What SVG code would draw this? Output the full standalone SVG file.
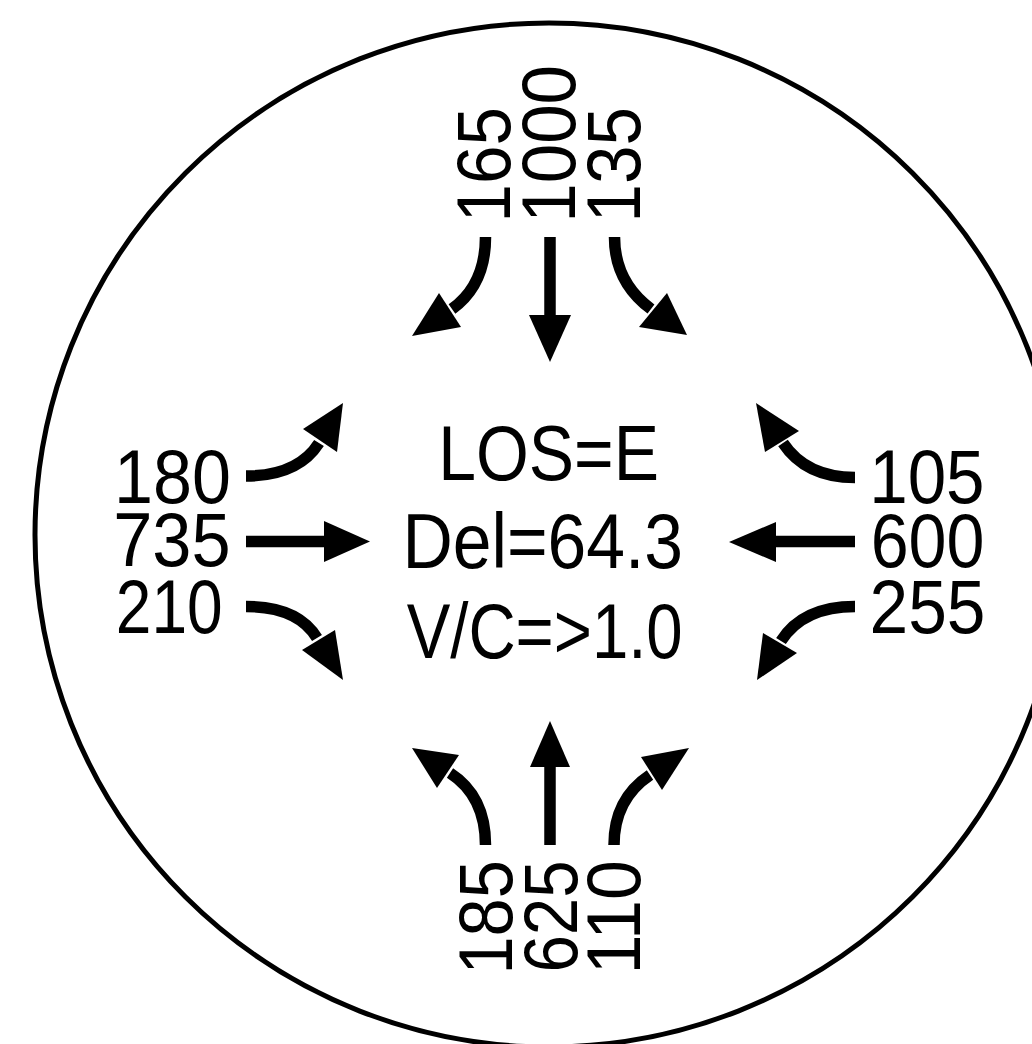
<svg xmlns="http://www.w3.org/2000/svg" width="1032" height="1044" viewBox="0 0 1032 1044">
<style>
text{font-family:"Liberation Sans",Arial,sans-serif;fill:#000;}
.n{font-size:76px;}
.c{font-size:78px;}
.sh{fill:none;stroke:#000;stroke-width:11.5;stroke-linecap:butt;}
.hd{fill:#000;stroke:none;}
</style>
<rect width="1032" height="1044" fill="#fff"/>
<g id="boundary">
<ellipse cx="549" cy="535" rx="514" ry="512" fill="none" stroke="#000" stroke-width="5"/>
</g>
<g id="summary">
<text class="c" x="438.3" y="480" textLength="220.7" lengthAdjust="spacingAndGlyphs">LOS=E</text>
<text class="c" x="402.5" y="568" textLength="280.5" lengthAdjust="spacingAndGlyphs">Del=64.3</text>
<text class="c" x="406.7" y="658" textLength="276" lengthAdjust="spacingAndGlyphs">V/C=&gt;1.0</text>
</g>
<g id="north-volumes">
<text class="n" transform="translate(510,222.5) rotate(-90)" textLength="115.4" lengthAdjust="spacingAndGlyphs">165</text>
<text class="n" transform="translate(575,222.7) rotate(-90)" textLength="157.7" lengthAdjust="spacingAndGlyphs">1000</text>
<text class="n" transform="translate(640,222.5) rotate(-90)" textLength="115.4" lengthAdjust="spacingAndGlyphs">135</text>
</g>
<g id="south-volumes">
<text class="n" transform="translate(512,974.5) rotate(-90)" textLength="114.3" lengthAdjust="spacingAndGlyphs">185</text>
<text class="n" transform="translate(577,972.6) rotate(-90)" textLength="112.3" lengthAdjust="spacingAndGlyphs">625</text>
<text class="n" transform="translate(640,974.5) rotate(-90)" textLength="114.4" lengthAdjust="spacingAndGlyphs">110</text>
</g>
<g id="west-volumes">
<text class="n" x="114.1" y="502.5" textLength="116.9" lengthAdjust="spacingAndGlyphs">180</text>
<text class="n" x="113.2" y="565.5" textLength="117.4" lengthAdjust="spacingAndGlyphs">735</text>
<text class="n" x="115.8" y="633" textLength="106.9" lengthAdjust="spacingAndGlyphs">210</text>
</g>
<g id="east-volumes">
<text class="n" x="869.2" y="502.5" textLength="115.4" lengthAdjust="spacingAndGlyphs">105</text>
<text class="n" x="870.7" y="566.5" textLength="113.8" lengthAdjust="spacingAndGlyphs">600</text>
<text class="n" x="869.6" y="633" textLength="115.9" lengthAdjust="spacingAndGlyphs">255</text>
</g>
<g id="connectors">
<!-- north approach -->
<path class="sh" d="M485.5,237 Q485.5,285 452,309"/>
<polygon class="hd" points="412,336 439,293 461,327"/>
<path class="sh" d="M550,237 L550,317"/>
<polygon class="hd" points="529,315 550,362 571,315"/>
<path class="sh" d="M614.5,237 Q614.5,282 651,309"/>
<polygon class="hd" points="687,335 639,327 667,293"/>
<!-- west approach -->
<path class="sh" d="M246,476 Q298,476 319,443"/>
<polygon class="hd" points="343,403 303,429 337,452"/>
<path class="sh" d="M246,541.5 L326,541.5"/>
<polygon class="hd" points="324,521 370,541.5 324,562"/>
<path class="sh" d="M246,606.5 Q298,606.5 317,638"/>
<polygon class="hd" points="343,680 302,650 335,630"/>
<!-- east approach -->
<path class="sh" d="M855,477.5 Q806,477.5 783,443"/>
<polygon class="hd" points="756,403 799,431 765,452"/>
<path class="sh" d="M855,541.5 L774,541.5"/>
<polygon class="hd" points="776,522 729,542 776,562"/>
<path class="sh" d="M855,606.5 Q803,606.5 781,641"/>
<polygon class="hd" points="757,680 763,633 797,653"/>
<!-- south approach -->
<path class="sh" d="M485.5,845 Q485.5,796 450,773"/>
<polygon class="hd" points="412,748 437,788 459,755"/>
<path class="sh" d="M550,845 L550,765"/>
<polygon class="hd" points="530,767 550,721 570,767"/>
<path class="sh" d="M614,845 Q614,799 650,775"/>
<polygon class="hd" points="689,748 641,757 662,790"/>
</g>
</svg>
